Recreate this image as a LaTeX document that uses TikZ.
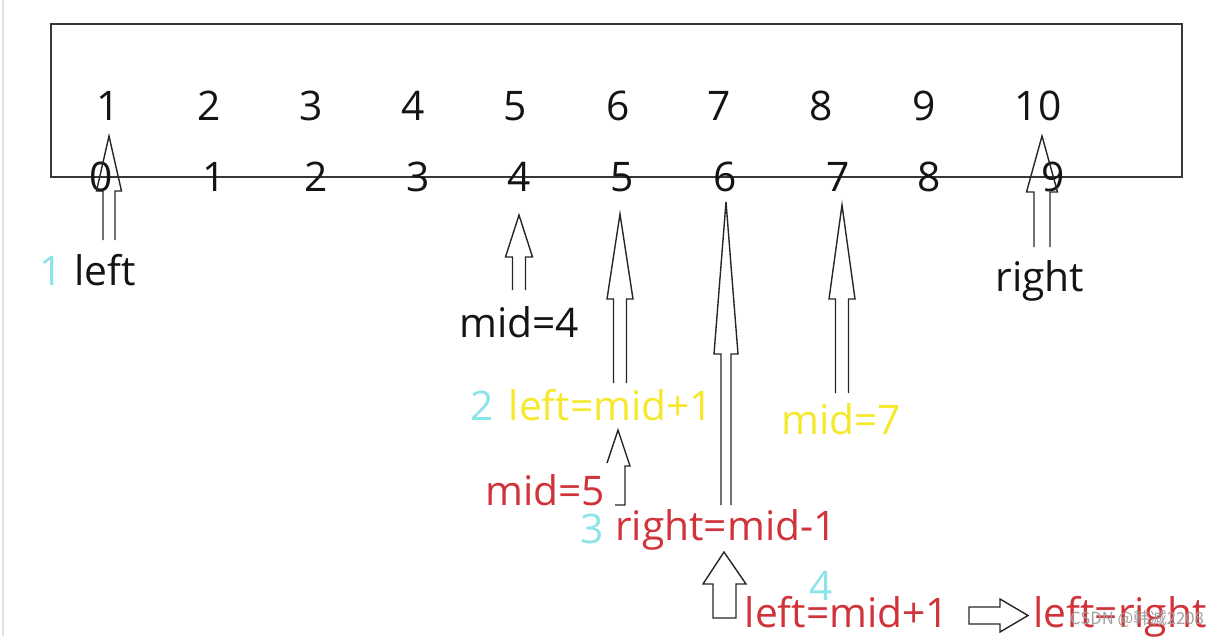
\documentclass[tikz,border=0pt]{standalone}
\usepackage{fontspec}
\setmainfont{Open Sans}
\newfontfamily\cjkfont{Noto Sans CJK SC}
\usetikzlibrary{positioning}
\definecolor{idxcyan}{RGB}{140,228,232}
\definecolor{stepyellow}{RGB}{245,232,45}
\definecolor{stepred}{RGB}{208,52,58}
\definecolor{boxgray}{RGB}{55,55,55}

% hollow up-arrow: x, tip, head base, tail, half shaft, half head
\newcommand{\hollowup}[6]{%
  \draw[harrow] ({#1-#5},#4) -- ({#1-#5},#3) -- ({#1-#6},#3) -- (#1,#2)
    -- ({#1+#6},#3) -- ({#1+#5},#3) -- ({#1+#5},#4);}

\begin{document}
\begin{tikzpicture}[
  x=0.02cm, y=-0.02cm,
  txt/.style={font=\fontsize{23.2}{27}\selectfont, inner sep=0, anchor=base, text=black!92},
  harrow/.style={draw=black!85, line width=0.8pt, line join=miter}
]
\useasboundingbox (0,0) rectangle (1220,636);
\draw[black!12, line width=1pt] (3,0) -- (3,636);

% array box
\draw[boxgray, line width=1.1pt] (51,24) rectangle (1182,177);

% values and indices
\foreach \v/\x in {1/108,2/209,3/311,4/413,5/515,6/618,7/719,8/821,9/924,10/1038}
  \node[txt] (t\v) at (\x,120) {\v};
\foreach \v/\x in {0/101,1/214,2/316,3/418,4/519,5/622,6/725,7/838,8/929,9/1053}
  \node[txt] (b\v) at (\x,191) {\v};

% pointers
\hollowup{109}{136}{191}{240}{6}{12.5}
\hollowup{519}{215}{257}{290}{6.5}{13.5}
\hollowup{620}{214}{299}{383}{6.5}{13}
\hollowup{726}{202}{354}{505}{5}{12}
\hollowup{842}{205}{299}{393}{6.5}{13}
\hollowup{1042}{136}{192}{247}{8}{15.5}
\draw[harrow] (607,463) -- (618,430) -- (630,466) -- (625,466) -- (625,505) -- (615,505);
\draw[harrow] (713,618) -- (713,584) -- (703,584) -- (724,552) -- (746,584)
  -- (736,584) -- (736,618) -- cycle;
\draw[harrow] (969,607) -- (1000,607) -- (1000,599) -- (1028,615.5) -- (1000,632)
  -- (1000,624) -- (969,624) -- cycle;

% step 1
\node[txt, text=idxcyan] (n1) at (51,285) {1};
\node[txt] (left1) at (105,285) {left};
\node[txt] (right1) at (1040,291) {right};
\node[txt] (mid1) at (519,337) {mid=4};

% step 2
\node[txt, text=idxcyan] (n2) at (482,420) {2};
\node[txt, text=stepyellow] (left2) at (611,420) {left=mid+1};
\node[txt, text=stepyellow] (mid2) at (841,434) {mid=7};

% step 3
\node[txt, text=stepred] (mid3) at (545,505) {mid=5};
\node[txt, text=idxcyan] (n3) at (592,543) {3};
\node[txt, text=stepred] (right3) at (726,540) {right=mid-1};

% step 4
\node[txt, text=idxcyan] (n4) at (821,600) {4};
\node[txt, text=stepred] (left4) at (847,627) {left=mid+1};
\node[txt, text=stepred] (end4) at (1120,627) {left=right};

\node[font=\cjkfont\fontsize{9.5}{11}\selectfont, text=gray!75, anchor=base, inner sep=0] (mark) at (1137,624) {CSDN @韩减2208};
\end{tikzpicture}
\end{document}
